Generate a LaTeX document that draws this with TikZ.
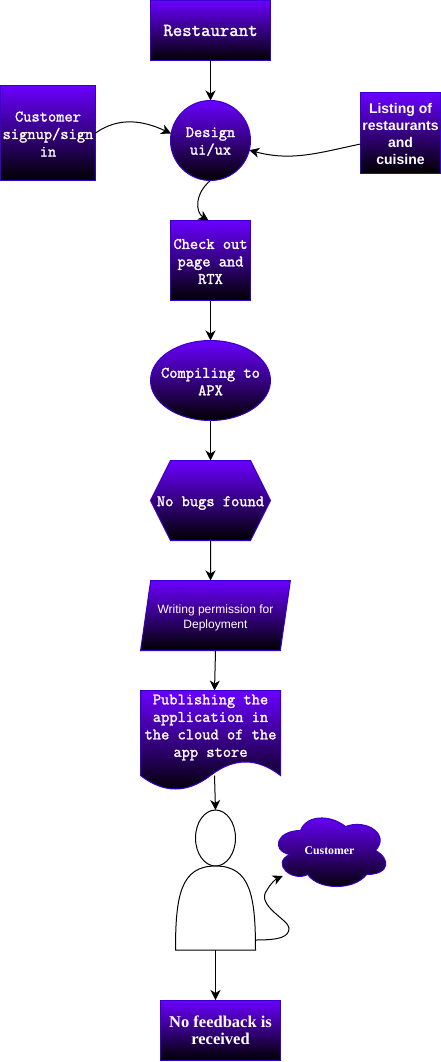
\documentclass[tikz,border=0pt]{standalone}
\usepackage{fontspec}
\usepackage{tikz}
\usetikzlibrary{shapes}
\usetikzlibrary{arrows.meta}
\newfontfamily\arialfont{Liberation Sans}
\newfontfamily\timesfont{Liberation Serif}
\newfontfamily\courierfont[AutoFakeBold=1.6]{Latin Modern Mono}
\newcommand{\fs}[2]{\fontsize{#1}{#2}\selectfont}
\newcommand{\lift}[1]{\rule{0pt}{#1}}
\definecolor{violetfill}{HTML}{6A00FF}
\definecolor{violetline}{HTML}{3700CC}
\begin{document}
\begin{tikzpicture}[x=1pt,y=-1pt,line width=1pt,>={Stealth[length=10pt,width=10pt,inset=3pt]}]
      \tikzstyle{every node}=[node distance=120,text=white,align=center,inner sep=0pt,outer sep=0pt]
      \tikzstyle{shaded}=[draw=violetline,top color=violetfill,bottom color=black]
      \tikzstyle{box}=[shaded,rectangle]
      \tikzstyle{courier}=[font=\fs{16}{17.5}\courierfont\bfseries]
      \useasboundingbox (0,0) rectangle (441,1062);
      %
      \node [box,minimum width=120,minimum height=60,font=\fs{18.3}{20}\courierfont\bfseries] (restaurant) at (210.5,30.5) {Restaurant};
      \node [shaded,circle,courier,minimum size=80] (design) [below of=restaurant, node distance=110] {\lift{12pt}Design\\ui/ux};
      \node [box,courier,minimum width=95,minimum height=95] (signup) [left of=design, node distance=162.5, yshift=7.5] {\lift{12pt}Customer\\signup/sign\\in};
      \node [box,minimum size=80,font=\fs{14}{17}\arialfont\bfseries] (listing) [right of=design, node distance=190, yshift=7.5] {\lift{13pt}Listing of\\restaurants\\and\\cuisine~};
      \node [box,courier,minimum size=80] (checkout) [below of=design] {\lift{12pt}Check out\\page and\\RTX~};
      \node [shaded,ellipse,courier,minimum width=120,minimum height=80,inner xsep=-8pt] (compile) [below of=checkout] {\lift{12pt}Compiling to\\APX};
      \node [shaded,signal,signal to=west and east,signal pointer angle=126.87,courier,minimum width=120,minimum height=80,inner xsep=-15pt] (bugs) [below of=compile] {\lift{15pt}No bugs found};
      \node [shaded,trapezium,trapezium left angle=74,trapezium right angle=106,trapezium stretches=true,minimum width=150,minimum height=70,font=\fs{12}{15}\arialfont] (permission) [below of=bugs, node distance=115, xshift=5] {\lift{14pt}Writing permission for\\Deployment};
      \shade [shaded] (140.5,690.5) -- (280.5,690.5) -- (280.5,775.5)
            .. controls (257.2,757.5) and (233.8,757.5) .. (210.5,775.5)
            .. controls (187.2,793.5) and (163.8,793.5) .. (140.5,775.5) -- cycle;
      \node [courier,minimum width=140,minimum height=74] (publish) [below of=permission, node distance=112, xshift=-5] {Publishing the\\application in\\the cloud of the\\app store};
      \node [draw=black,ellipse,fill=white,minimum width=40,minimum height=56] (head) [below of=publish, node distance=110.5, xshift=5] {};
      \node [minimum width=80,minimum height=84] (figure) [below of=head, node distance=70] {};
      \draw [fill=white] (figure.south west) -- (figure.south east)
            .. controls (255.5,895) and (250,866) .. (215.5,866)
            .. controls (181,866) and (175.5,895) .. (figure.south west) -- cycle;
      \shade [shaded,shift={(270.5,810.5)},x=120pt,y=-80pt] (.25,.25)
            .. controls (.05,.25) and (0,.5) .. (.16,.55)
            .. controls (0,.66) and (.18,.9) .. (.31,.8)
            .. controls (.4,1) and (.7,1) .. (.8,.8)
            .. controls (1,.8) and (1,.6) .. (.875,.5)
            .. controls (1,.3) and (.8,.1) .. (.625,.2)
            .. controls (.5,.05) and (.3,.05) .. (.25,.25) -- cycle;
      \node [minimum width=120,minimum height=80,font=\fs{11.8}{14}\timesfont\bfseries] (customer) at (329.5,850.5) {Customer};
      \node [box,minimum width=120,minimum height=60,font=\fs{16.5}{17}\timesfont\bfseries] (feedback) [below of=figure, node distance=122, xshift=5] {\lift{13pt}No feedback is\\received};
      \coordinate (loopright) at (289,928);
      \coordinate (cloudend) at (282.7,876);
      %
      \path[->]
      (restaurant) edge []                 (design)
      (signup.east) edge [out=35,in=155]   (design.170)
      ([yshift=-11]listing.west) edge [out=192,in=-15] (design.-14)
      (checkout) edge []                   (compile)
      (compile) edge []                    (bugs)
      (bugs) edge []                       (permission.north -| bugs.south)
      (permission.south) edge []           ([xshift=4]publish.north);
      \draw [->] (design.south) .. controls (195,193) and (195,212) .. ([xshift=-2]checkout.north);
      \draw [->] ([xshift=4,yshift=-48]publish.center) -- (head.north);
      \draw [->] (figure.south) -- ([xshift=-5]feedback.north);
      \draw [->] ([yshift=10]figure.south east) .. controls (280,940) and (289,937) .. (loopright)
            .. controls (289,920) and (255,905) .. (267,890) .. controls (270,884) and (276,879) .. (cloudend);
    \end{tikzpicture}
\end{document}
